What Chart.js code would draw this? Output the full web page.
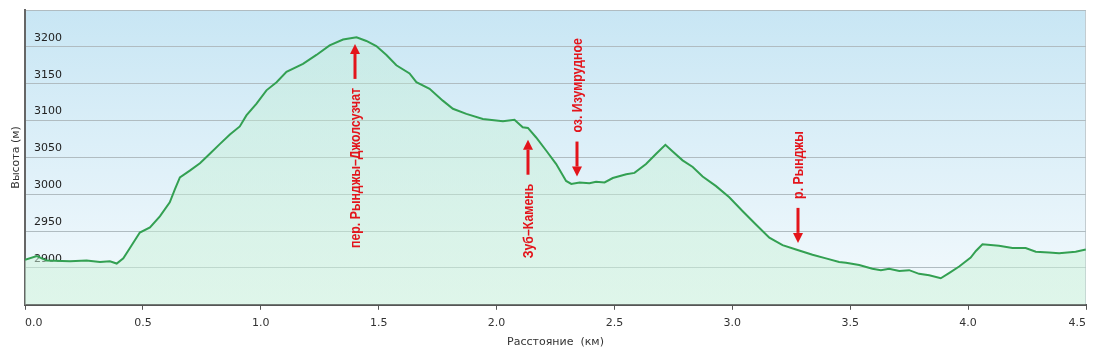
<!DOCTYPE html>
<html><head><meta charset="utf-8">
<script src="https://cdn.jsdelivr.net/npm/chart.js@4.4.0/dist/chart.umd.min.js"></script>
<style>html,body{margin:0;padding:0;background:#fff;}#wrap{width:1093px;height:353px;position:relative;}</style>
</head><body><div id="wrap"><canvas id="c"></canvas></div>
<script>
const distanceKm = [0.000,0.050,0.092,0.191,0.261,0.318,0.360,0.389,0.417,0.445,0.487,0.530,0.572,0.614,0.636,0.657,0.699,0.742,0.784,0.826,0.869,0.911,0.939,0.982,1.024,1.067,1.109,1.179,1.236,1.292,1.349,1.406,1.448,1.490,1.533,1.575,1.631,1.660,1.716,1.772,1.815,1.872,1.942,2.027,2.076,2.111,2.133,2.168,2.211,2.253,2.295,2.317,2.352,2.394,2.422,2.458,2.493,2.550,2.585,2.634,2.677,2.716,2.747,2.789,2.832,2.874,2.931,2.987,3.044,3.100,3.157,3.213,3.270,3.340,3.397,3.453,3.482,3.538,3.594,3.630,3.665,3.708,3.750,3.792,3.835,3.884,3.919,3.962,4.011,4.033,4.061,4.131,4.188,4.244,4.287,4.343,4.386,4.456,4.499];
const elevationM = [2911,2916,2910,2909,2910,2908,2909,2906,2913,2927,2948,2955,2970,2989,3007,3023,3032,3042,3055,3068,3081,3092,3107,3123,3141,3152,3166,3177,3189,3202,3210,3213,3208,3201,3189,3175,3164,3152,3143,3127,3116,3109,3102,3099,3101,3091,3090,3077,3059,3041,3018,3014,3016,3015,3017,3016,3022,3027,3029,3041,3055,3067,3058,3046,3037,3024,3011,2996,2977,2959,2941,2931,2925,2918,2913,2908,2907,2904,2899,2897,2899,2896,2897,2892,2890,2886,2893,2902,2914,2923,2932,2930,2927,2927,2922,2921,2920,2922,2925];
const markerLabels = ['пер. Рынджы–Джолсузчат','Зуб–Камень','оз. Изумрудное','р. Рынджы'];
const markerKm = [1.40, 2.135, 2.34, 3.28];
const markerTipM = [3204, 3074, 3024, 2934];
const markerDir = ['up','up','down','down'];

const points = distanceKm.map((d,i)=>({x:d,y:elevationM[i]}));
const RED = '#e3141b';
const TICK_FONT = {family:'"DejaVu Sans", Verdana, sans-serif', size:11};

const bgPlugin = {
  id:'bg',
  beforeDraw(chart){
    const {ctx, chartArea:a} = chart;
    if(!a) return;
    const g = ctx.createLinearGradient(0,a.top,0,a.bottom);
    g.addColorStop(0,'#c8e6f4');
    g.addColorStop(1,'#f4fafd');
    ctx.save();
    ctx.fillStyle = g;
    ctx.fillRect(a.left,a.top,a.right-a.left,a.bottom-a.top);
    ctx.strokeStyle = '#c3ccd0';
    ctx.lineWidth = 1;
    ctx.beginPath();
    ctx.moveTo(a.left, a.top+0.5); ctx.lineTo(a.right-0.5, a.top+0.5); ctx.lineTo(a.right-0.5, a.bottom);
    ctx.stroke();
    ctx.restore();
  }
};

const markerPlugin = {
  id:'markers',
  afterDatasetsDraw(chart){
    const {ctx, scales:{x,y}} = chart;
    ctx.save();
    ctx.fillStyle = RED; ctx.strokeStyle = RED;
    ctx.font = 'bold 14px "Liberation Sans", Arial, sans-serif';
    const len = 35, head = 10, hw = 5, gap = 9;
    markerLabels.forEach((lab,i)=>{
      const px = Math.round(x.getPixelForValue(markerKm[i]));
      const tip = y.getPixelForValue(markerTipM[i]);
      const up = markerDir[i]==='up';
      const tail = up ? tip + len : tip - len;
      const neck = up ? tip + head : tip - head;
      ctx.lineWidth = 3;
      ctx.beginPath(); ctx.moveTo(px, tail); ctx.lineTo(px, neck); ctx.stroke();
      ctx.beginPath(); ctx.moveTo(px, tip); ctx.lineTo(px-hw, neck); ctx.lineTo(px+hw, neck); ctx.closePath(); ctx.fill();
      ctx.save();
      ctx.translate(px, up ? tail + gap : tail - gap);
      ctx.rotate(-Math.PI/2);
      ctx.scale(0.88, 1);
      ctx.textBaseline = 'middle';
      ctx.textAlign = up ? 'right' : 'left';
      ctx.fillText(lab, 0, 1);
      ctx.restore();
    });
    ctx.restore();
  }
};

new Chart(document.getElementById('c'), {
  type:'line',
  data:{datasets:[{
    data: points,
    borderColor:'#33a052',
    borderWidth:2,
    pointRadius:0,
    tension:0,
    fill:'start',
    backgroundColor(ctx){
      const a = ctx.chart.chartArea;
      if(!a) return 'rgba(200,240,210,0.4)';
      const g = ctx.chart.ctx.createLinearGradient(0,a.top,0,a.bottom);
      g.addColorStop(0,'rgba(190,238,205,0.3)');
      g.addColorStop(1,'rgba(205,242,218,0.55)');
      return g;
    }
  }]},
  options:{
    responsive:true, maintainAspectRatio:false, animation:false,
    layout:{padding:{left:4,right:5,top:10,bottom:5}},
    plugins:{legend:{display:false},tooltip:{enabled:false}},
    scales:{
      x:{
        type:'linear', min:0, max:4.5,
        ticks:{stepSize:0.5, callback:v=>Number(v).toFixed(1), align:'inner', padding:7, font:TICK_FONT, color:'#333', maxRotation:0, autoSkip:false},
        grid:{drawOnChartArea:false, drawTicks:true, tickLength:5, color:'#555'},
        border:{color:'#555', width:2},
        title:{display:true, text:'Расстояние  (км)', color:'#333', font:{family:'"DejaVu Sans", Verdana, sans-serif', size:11, lineHeight:1}, padding:{top:0,bottom:0}}
      },
      y:{
        min:2850, max:3250,
        afterFit(s){ s.width = 21; s.paddingTop = 0; s.paddingBottom = 0; },
        ticks:{stepSize:50, mirror:true, padding:9, labelOffset:-9, font:TICK_FONT, color:'#222',
          callback:v=>(v<=2850||v>=3250)?'':String(v)},
        grid:{color:'#b0bcc1', drawTicks:false},
        border:{color:'#666', width:2},
        title:{display:true, text:'Высота (м)', color:'#333', font:{family:'"DejaVu Sans", Verdana, sans-serif', size:11}, padding:{top:6,bottom:2}}
      }
    }
  },
  plugins:[bgPlugin, markerPlugin]
});
</script></body></html>
